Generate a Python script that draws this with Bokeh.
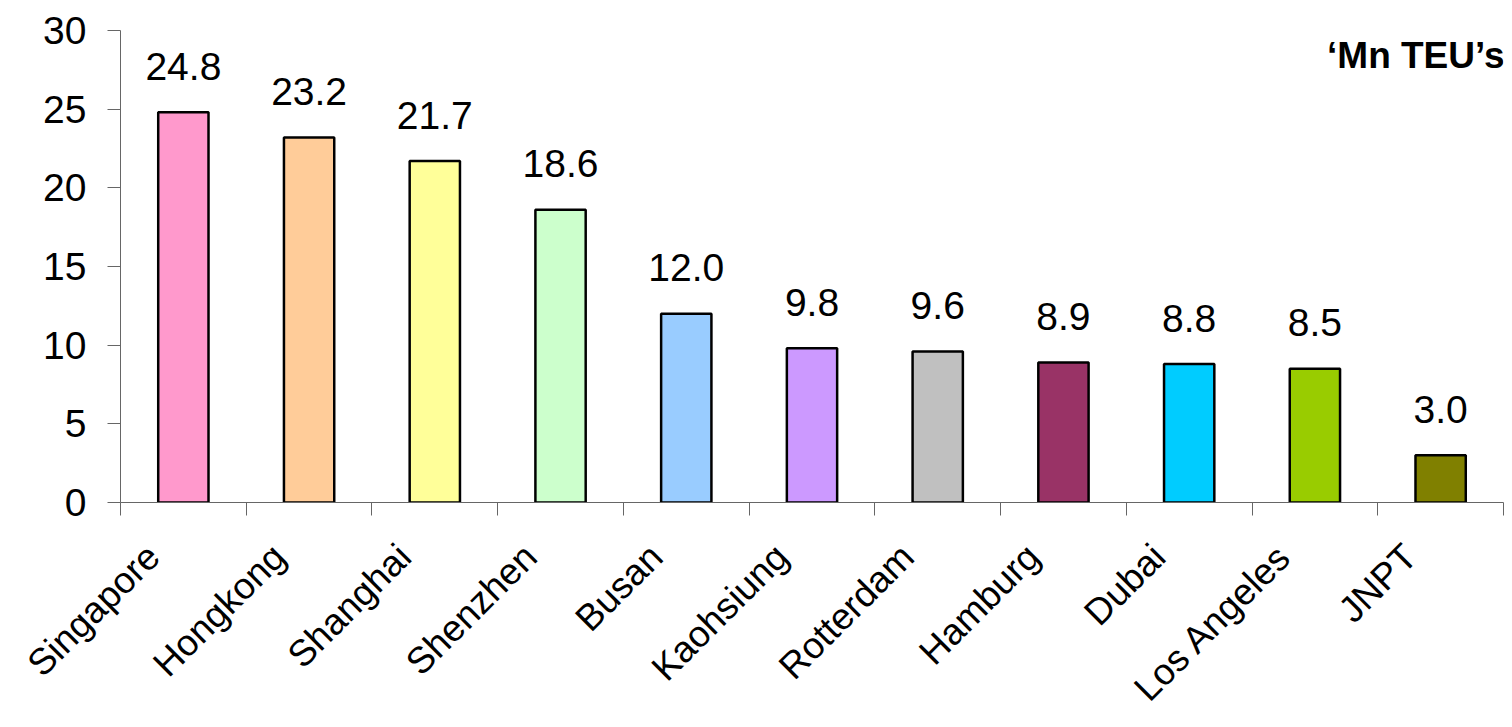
import math
from bokeh.plotting import figure
from bokeh.models import ColumnDataSource, FixedTicker, Range1d, Label
from bokeh.core.properties import value
from bokeh.embed import file_html
from bokeh.resources import INLINE

ports = ["Singapore", "Hongkong", "Shanghai", "Shenzhen", "Busan", "Kaohsiung",
         "Rotterdam", "Hamburg", "Dubai", "Los Angeles", "JNPT"]
teu = [24.8, 23.2, 21.7, 18.6, 12.0, 9.8, 9.6, 8.9, 8.8, 8.5, 3.0]
colors = ["#FF99CC", "#FFCC99", "#FFFF99", "#CCFFCC", "#99CCFF", "#CC99FF",
          "#C0C0C0", "#993366", "#00CCFF", "#99CC00", "#808000"]
y_ticks = [0, 5, 10, 15, 20, 25, 30]
unit_label = "\u2018Mn TEU\u2019s"

FONT = "Liberation Sans"

xpos = [i + 0.5 for i in range(len(ports))]
label_pos = [i + 0.26 for i in range(len(ports))]
source = ColumnDataSource(dict(
    x=xpos, top=teu, color=colors, port=ports,
    label=[f"{v:.1f}" for v in teu],
))

p = figure(width=1512, height=727, output_backend="svg", toolbar_location=None,
           x_range=Range1d(0, len(ports)), y_range=Range1d(0, 30),
           min_border_left=120, min_border_top=30, min_border_right=9,
           min_border_bottom=225)
p.outline_line_color = None
p.xgrid.grid_line_color = None
p.ygrid.grid_line_color = None
p.background_fill_color = "white"
p.border_fill_color = "white"

p.vbar(x="x", top="top", bottom=0, width=0.4, source=source,
       fill_color="color", line_color="black", line_width=2.5)

p.text(x="x", y="top", text="label", source=source, text_align="center",
       text_baseline="alphabetic", y_offset=-46, text_font=value(FONT),
       text_font_size="39px", text_color="black")

# y axis
ya = p.yaxis[0]
ya.ticker = FixedTicker(ticks=y_ticks)
ya.axis_line_color = "#666666"
ya.major_tick_line_color = "#666666"
ya.major_tick_out = 13
ya.major_tick_in = 0
ya.minor_tick_line_color = None
ya.major_label_text_font = FONT
ya.major_label_text_font_size = "39px"
ya.major_label_text_color = "black"
ya.major_label_standoff = 21

# x axis
xa = p.xaxis[0]
xa.ticker = FixedTicker(ticks=label_pos, minor_ticks=list(range(len(ports) + 1)))
xa.major_label_overrides = {x: name for x, name in zip(label_pos, ports)}
xa.axis_line_color = "#666666"
xa.major_tick_line_color = None
xa.major_tick_out = 0
xa.major_tick_in = 0
xa.minor_tick_line_color = "#666666"
xa.minor_tick_out = 0
xa.minor_tick_in = -13
xa.major_label_orientation = math.pi / 4
xa.major_label_text_font = FONT
xa.major_label_text_font_size = "37px"
xa.major_label_text_color = "black"
xa.major_label_standoff = 48

p.add_layout(Label(x=len(ports), y=30, text=unit_label, text_align="right",
                   text_baseline="alphabetic", y_offset=-25, x_offset=1,
                   text_font=FONT, text_font_size="37px", text_font_style="bold",
                   text_color="black"))

open("out.html", "w").write(file_html(p, INLINE))
